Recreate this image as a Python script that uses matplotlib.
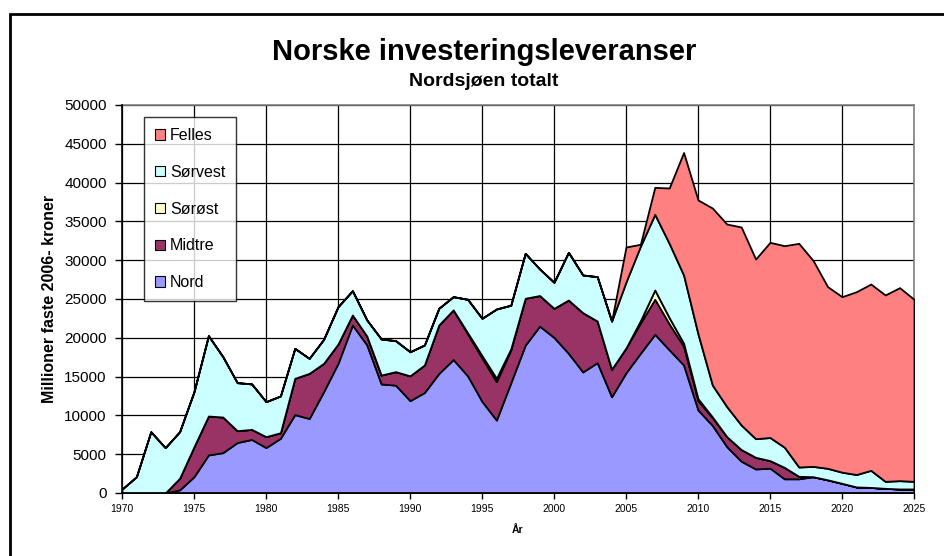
import matplotlib
matplotlib.use("Agg")
import matplotlib.pyplot as plt
from matplotlib.patches import Patch, Rectangle
import numpy as np

plt.rcParams['font.family'] = ['Liberation Sans', 'DejaVu Sans']

years = list(range(1970, 2026))

nord = [0, 0, 0, 0, 400, 2100, 4900, 5200, 6500, 6900,
        5850, 7050, 10100, 9600, 13050, 16700, 21650, 19100, 14050, 13900,
        11900, 12950, 15400, 17200, 15100, 11800, 9400, 14200, 19050, 21500,
        20050, 18000, 15600, 16800, 12400, 15500, 18000, 20450, 18450, 16500,
        10700, 8700, 5970, 4100, 3100, 3200, 1830, 1830, 2100, 1700,
        1250, 780, 720, 600, 520, 520]

midtre = [0, 0, 0, 0, 1500, 3870, 5020, 4590, 1530, 1300,
          1410, 720, 4680, 5820, 3660, 2500, 1290, 1130, 1150, 1740,
          3200, 3550, 6250, 6400, 5400, 5600, 4950, 4230, 6040, 3950,
          3750, 6870, 7640, 5360, 3540, 3200, 3900, 4510, 3350, 2400,
          1200, 1000, 1290, 1500, 1500, 970, 1470, 320, 0, 0,
          0, 0, 0, 0, 0, 0]

sorost = [0, 0, 0, 0, 0, 0, 0, 0, 0, 0,
          0, 0, 0, 0, 0, 0, 0, 0, 0, 0,
          0, 0, 0, 0, 150, 300, 430, 150, 0, 0,
          0, 0, 0, 0, 0, 0, 300, 1200, 800, 400,
          250, 100, 0, 0, 0, 0, 0, 0, 0, 0,
          0, 0, 0, 0, 0, 0]

sorvest = [500, 2100, 7900, 5840, 6000, 7090, 10350, 7780, 6190, 5860,
           4510, 4730, 3860, 1930, 3090, 4810, 3130, 2070, 4650, 3990,
           3100, 2570, 2150, 1700, 4310, 4810, 8930, 5620, 5790, 3420,
           3350, 6140, 4850, 5720, 6210, 8500, 9600, 9740, 9570, 8790,
           8350, 4100, 3870, 3160, 2400, 2980, 2600, 1200, 1330, 1480,
           1430, 1600, 2200, 900, 1070, 980]

felles = [0, 0, 0, 0, 0, 0, 0, 0, 0, 0,
          0, 0, 0, 0, 0, 0, 0, 0, 0, 0,
          0, 0, 0, 0, 0, 0, 0, 0, 0, 0,
          0, 0, 0, 0, 0, 4500, 250, 3490, 7130, 15790,
          17260, 22820, 23530, 25520, 23150, 25150, 25970, 28820, 26510, 23410,
          22620, 23560, 24010, 24020, 24870, 23460]

series_names = ["Nord", "Midtre", "Sørøst", "Sørvest", "Felles"]
colors = ["#9999FF", "#993366", "#FFFFCC", "#CCFFFF", "#FF8080"]

xticks = list(range(1970, 2030, 5))
yticks = list(range(0, 50001, 5000))

W, H = 944, 556
fig = plt.figure(figsize=(W / 100, H / 100), dpi=100)

# outer chart frame
fig.patches.append(Rectangle((10 / W, -0.1), 1.2, 1 - 14 / H + 0.1,
                             transform=fig.transFigure, fill=False,
                             edgecolor='black', linewidth=2.0, zorder=0))

ax = fig.add_axes([122 / W, 1 - 493 / H, (914 - 122) / W, (493 - 105) / H])

ax.stackplot(years, nord, midtre, sorost, sorvest, felles,
             colors=colors, edgecolor='black', linewidth=1.3, zorder=3)

ax.set_xlim(1970, 2025)
ax.set_ylim(0, 50000)
ax.set_xticks(xticks)
ax.set_yticks(yticks)
ax.set_xticklabels([str(t) for t in xticks], fontsize=7.5)
ax.set_yticklabels([str(t) for t in yticks], fontsize=11)
ax.tick_params(axis='y', direction='out', length=5, width=1, pad=6)
ax.tick_params(axis='x', direction='out', length=4, width=1, pad=4)

ax.grid(True, color='black', linewidth=0.9, zorder=1)
ax.set_axisbelow(True)
for s in ['top', 'right']:
    ax.spines[s].set_color('#808080')
    ax.spines[s].set_linewidth(1.2)
for s in ['left', 'bottom']:
    ax.spines[s].set_color('black')
    ax.spines[s].set_linewidth(1.2)
    ax.spines[s].set_zorder(5)

ax.set_ylabel("Millioner faste 2006- kroner", fontsize=11.5, fontweight='bold', labelpad=5)
ax.set_xlabel("År", fontsize=7.5, fontweight='bold', labelpad=8)

fig.text(484 / W, 1 - 60 / H, "Norske investeringsleveranser", ha='center', va='baseline',
         fontsize=21, fontweight='bold')
fig.text(484 / W, 1 - 86 / H, "Nordsjøen totalt", ha='center', va='baseline',
         fontsize=14, fontweight='bold')

handles = [Patch(facecolor=c, edgecolor='black', linewidth=0.8) for c in colors]
order = [4, 3, 2, 1, 0]
leg = ax.legend([handles[i] for i in order], [series_names[i] for i in order],
                loc='upper left', bbox_to_anchor=(22 / 792, (493 - 117) / 388),
                borderaxespad=0, fontsize=11.5, frameon=True, fancybox=False,
                labelspacing=1.36, handlelength=0.62, handleheight=0.62,
                handletextpad=0.3, borderpad=0.7)
leg.get_frame().set_edgecolor('black')
leg.get_frame().set_linewidth(1.0)
leg.set_zorder(10)

fig.savefig("out.png", dpi=100)
